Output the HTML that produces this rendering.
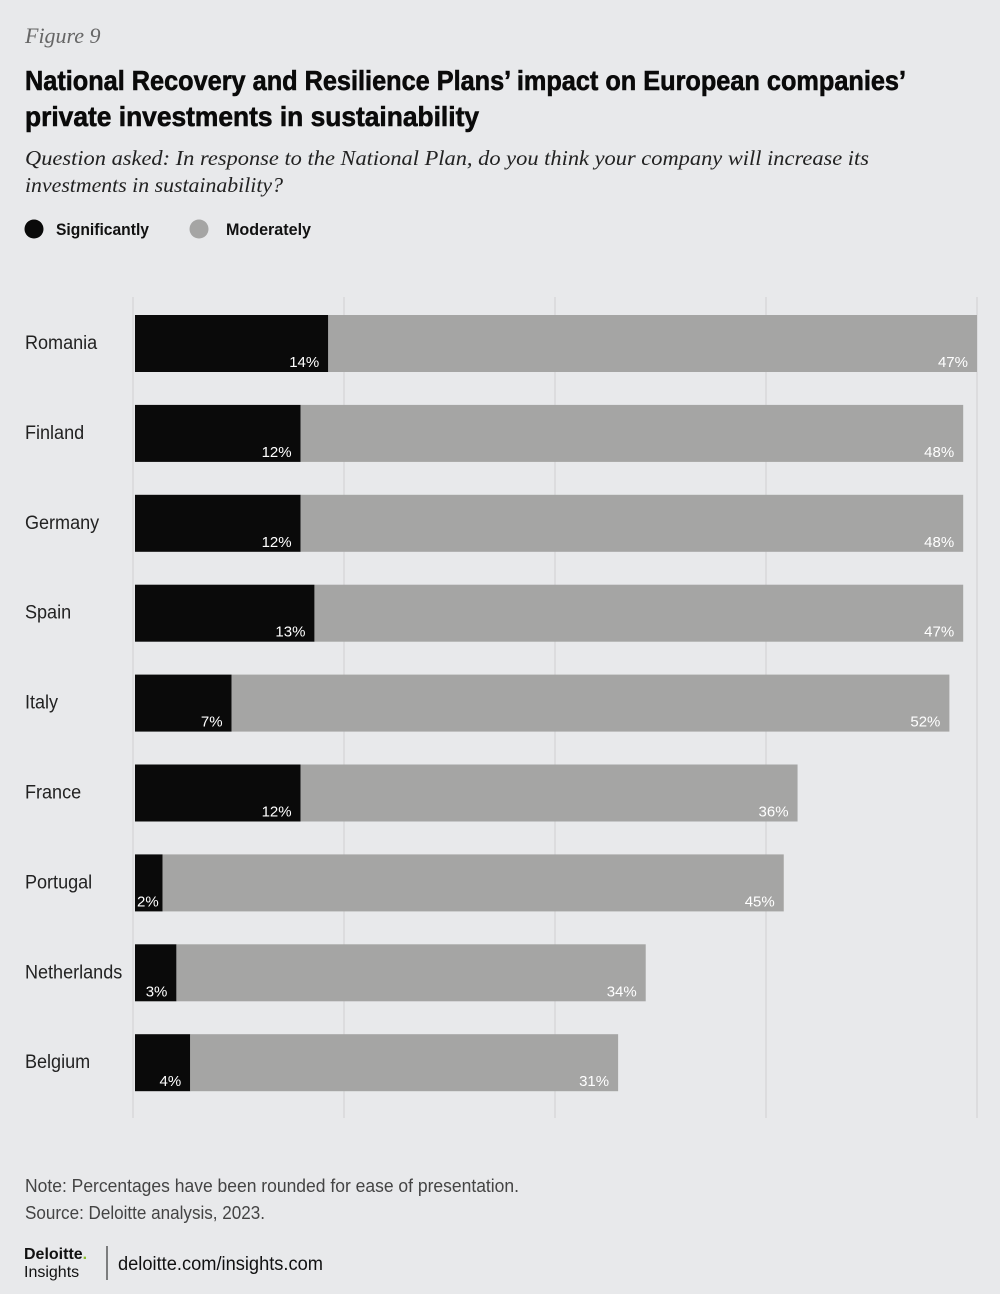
<!DOCTYPE html>
<html><head><meta charset="utf-8"><style>
html,body{margin:0;padding:0;background:#e8e9eb;}
svg{display:block;}
</style></head><body>
<svg id="chart" width="1000" height="1294" xmlns="http://www.w3.org/2000/svg" font-family="'Liberation Sans', sans-serif">
<rect width="1000" height="1294" fill="#e8e9eb"/>
<text x="25" y="43" font-family="'Liberation Serif', serif" font-style="italic" font-size="22" fill="#666">Figure 9</text>
<text x="25" y="90" font-weight="bold" font-size="28" fill="#0a0a0a" stroke="#0a0a0a" stroke-width="0.6" textLength="881" lengthAdjust="spacingAndGlyphs">National Recovery and Resilience Plans’ impact on European companies’</text>
<text x="25" y="126" font-weight="bold" font-size="28" fill="#0a0a0a" stroke="#0a0a0a" stroke-width="0.6" textLength="454" lengthAdjust="spacingAndGlyphs">private investments in sustainability</text>
<text x="25" y="165" font-family="'Liberation Serif', serif" font-style="italic" font-size="21" fill="#222" textLength="844" lengthAdjust="spacingAndGlyphs">Question asked: In response to the National Plan, do you think your company will increase its</text>
<text x="25" y="192" font-family="'Liberation Serif', serif" font-style="italic" font-size="21" fill="#222" textLength="258" lengthAdjust="spacingAndGlyphs">investments in sustainability?</text>
<g>
<circle cx="34" cy="229" r="9.5" fill="#0a0a0a"/>
<text x="56" y="235" font-weight="bold" font-size="17" fill="#111" textLength="93" lengthAdjust="spacingAndGlyphs">Significantly</text>
<circle cx="199" cy="229" r="9.5" fill="#a5a5a4"/>
<text x="226" y="235" font-weight="bold" font-size="17" fill="#111" textLength="85" lengthAdjust="spacingAndGlyphs">Moderately</text>
</g>
<g id="grid"></g>
<g id="bars"></g>
<text x="25" y="1192" font-size="18" fill="#444" textLength="494" lengthAdjust="spacingAndGlyphs">Note: Percentages have been rounded for ease of presentation.</text>
<text x="25" y="1219" font-size="18" fill="#444" textLength="240" lengthAdjust="spacingAndGlyphs">Source: Deloitte analysis, 2023.</text>
<text x="24" y="1259" font-weight="bold" font-size="16" fill="#111">Deloitte<tspan fill="#86bc25">.</tspan></text>
<text x="24" y="1277" font-size="16" fill="#111">Insights</text>
<line x1="107" y1="1246" x2="107" y2="1280" stroke="#111" stroke-width="1"/>
<text x="118" y="1270" font-size="19" fill="#111" textLength="205" lengthAdjust="spacingAndGlyphs">deloitte.com/insights.com</text>
</svg>
<script>
const countries = ["Romania","Finland","Germany","Spain","Italy","France","Portugal","Netherlands","Belgium"];
const significantly = [14,12,12,13,7,12,2,3,4];
const moderately = [47,48,48,47,52,36,45,34,31];
const xMax = 61;
const NS = "http://www.w3.org/2000/svg";
const x0 = 135, x1 = 977;
const xs = v => x0 + (v / xMax) * (x1 - x0);
const yTop = 315, step = 89.9, barH = 57;
const ys = i => yTop + i * step;
function mk(tag, attrs, parent){const e=document.createElementNS(NS,tag);for(const k in attrs)e.setAttribute(k,attrs[k]);parent.appendChild(e);return e;}
const grid = document.getElementById('grid');
for (let k = 0; k <= 4; k++) {
  const gx = 133 + k * 211;
  const l = mk('line', {x1:gx, x2:gx, y1:297, y2:1118, stroke:'#cfd0d2', 'stroke-width':1}, grid);
  
  
}
const bars = document.getElementById('bars');
countries.forEach((c, i) => {
  const y = ys(i);
  const lab = mk('text', {x:25, y:y+34, 'font-size':19, fill:'#222', transform:'translate(25 0) scale(0.95 1) translate(-25 0)'}, bars);
  lab.textContent = c;
  
  
  const s = significantly[i], m = moderately[i];
  const r1 = mk('rect', {x:x0, y:y, width:xs(s)-x0, height:barH, fill:'#0a0a0a'}, bars);
  
  
  const r2 = mk('rect', {x:xs(s), y:y, width:xs(s+m)-xs(s), height:barH, fill:'#a5a5a4'}, bars);
  
  
  const narrow = xs(s) - x0 < 36;
  const t1 = mk('text', narrow ? {x:x0+2, y:y+52, 'font-size':15, fill:'#fff', 'text-anchor':'start'} : {x:xs(s)-9, y:y+52, 'font-size':15, fill:'#fff', 'text-anchor':'end'}, bars);
  t1.textContent = s + '%';
  
  
  const t2 = mk('text', {x:xs(s+m)-9, y:y+52, 'font-size':15, fill:'#fff', 'text-anchor':'end'}, bars);
  t2.textContent = m + '%';
  
  
});
</script>
</body></html>
